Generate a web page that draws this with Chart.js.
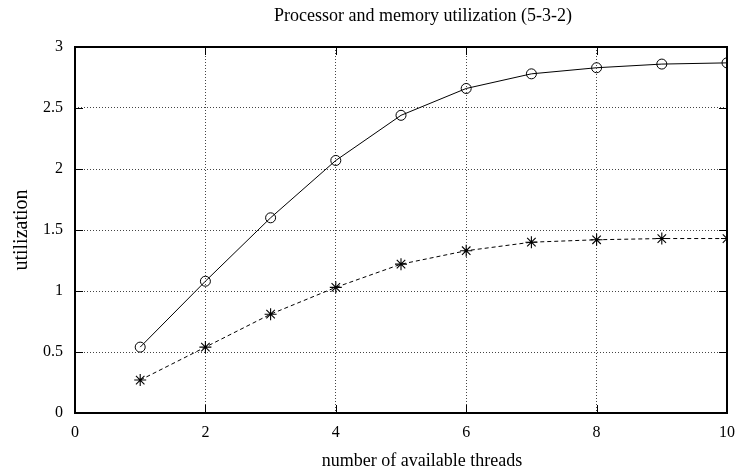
<!DOCTYPE html>
<html>
<head>
<meta charset="UTF-8">
<title>Processor and memory utilization</title>
<script src="https://cdn.jsdelivr.net/npm/chart.js"></script>
<style>
  body { margin: 0; background: #fff; }
  #wrap { width: 736px; height: 476px; }
</style>
</head>
<body>
<div id="wrap"><canvas id="util"></canvas></div>
<script>
// threads on the x axis
const threads = [1, 2, 3, 4, 5, 6, 7, 8, 9, 10];
// processor utilization (circles, solid line)
const processorUtil = [0.54, 1.08, 1.60, 2.07, 2.44, 2.66, 2.78, 2.83, 2.86, 2.87];
// memory utilization (stars, dashed line)
const memoryUtil = [0.27, 0.54, 0.81, 1.03, 1.22, 1.33, 1.40, 1.42, 1.43, 1.43];
const xTicks = [0, 2, 4, 6, 8, 10];
const yTicks = [0, 0.5, 1, 1.5, 2, 2.5, 3];

const titleText = 'Processor and memory utilization (5-3-2)';
const xLabel = 'number of available threads';
const yLabel = 'utilization';

const serif = 'Liberation Serif';

// gnuplot style frame with ticks drawn inwards, plus the labels
// (the figure was cropped on the right, so title and xlabel sit right of centre)
const frame = {
    id: 'frame',
    afterDatasetsDraw(chart) {
        const ctx = chart.ctx;
        const a = chart.chartArea;
        const xs = chart.scales.x, ys = chart.scales.y;
        ctx.save();
        ctx.strokeStyle = '#000';
        ctx.lineWidth = 1;
        ctx.beginPath();
        xTicks.forEach(v => {
            const px = Math.round(xs.getPixelForValue(v)) + 0.5;
            ctx.moveTo(px, a.bottom); ctx.lineTo(px, a.bottom - 8);
            ctx.moveTo(px, a.top); ctx.lineTo(px, a.top + 8);
        });
        yTicks.forEach(v => {
            const py = Math.round(ys.getPixelForValue(v)) + 0.5;
            ctx.moveTo(a.left, py); ctx.lineTo(a.left + 8, py);
            ctx.moveTo(a.right, py); ctx.lineTo(a.right - 8, py);
        });
        ctx.stroke();
        ctx.lineWidth = 2;
        ctx.strokeRect(a.left, a.top, a.right - a.left, a.bottom - a.top);

        ctx.fillStyle = '#000';
        ctx.textAlign = 'center';
        ctx.textBaseline = 'middle';
        ctx.font = '18px "' + serif + '"';
        ctx.fillText(titleText, 423, 16);
        ctx.fillText(xLabel, 422, 461);

        ctx.font = '20px "' + serif + '"';
        ctx.translate(27, (a.top + a.bottom) / 2);
        ctx.rotate(-Math.PI / 2);
        ctx.textBaseline = 'alphabetic';
        ctx.fillText(yLabel, 0, 0);
        ctx.restore();
    }
};

new Chart(document.getElementById('util'), {
    type: 'line',
    data: {
        datasets: [
            {
                label: 'processor',
                data: threads.map((t, i) => ({ x: t, y: processorUtil[i] })),
                borderColor: '#000',
                borderWidth: 1,
                pointStyle: 'circle',
                pointRadius: 5,
                pointBorderWidth: 1,
                pointBackgroundColor: 'rgba(255,255,255,0)',
                pointBorderColor: '#000',
                tension: 0
            },
            {
                label: 'memory',
                data: threads.map((t, i) => ({ x: t, y: memoryUtil[i] })),
                borderColor: '#000',
                borderWidth: 1,
                borderDash: [4, 3],
                pointStyle: 'star',
                pointRadius: 6,
                pointBorderWidth: 1.1,
                pointBorderColor: '#000',
                tension: 0
            }
        ]
    },
    options: {
        responsive: true,
        maintainAspectRatio: false,
        animation: false,
        layout: { padding: { left: 0, right: 0, top: 47, bottom: 0 } },
        plugins: {
            legend: { display: false },
            tooltip: { enabled: false },
            title: { display: false }
        },
        scales: {
            x: {
                type: 'linear',
                min: 0,
                max: 10,
                afterBuildTicks: s => { s.ticks = xTicks.map(v => ({ value: v })); },
                afterFit: s => { s.height = 63; s.paddingRight = 9; },
                grid: {
                    color: '#444',
                    drawTicks: false
                },
                border: { display: false, dash: [1, 2] },
                ticks: {
                    color: '#000',
                    padding: 10,
                    font: { family: serif, size: 16 }
                }
            },
            y: {
                min: 0,
                max: 3,
                afterBuildTicks: s => { s.ticks = yTicks.map(v => ({ value: v })); },
                afterFit: s => { s.width = 75; s.paddingTop = 0; s.paddingBottom = 0; },
                grid: {
                    color: '#444',
                    drawTicks: false
                },
                border: { display: false, dash: [1, 2] },
                ticks: {
                    color: '#000',
                    padding: 12,
                    font: { family: serif, size: 16 },
                    callback: v => String(v)
                }
            }
        }
    },
    plugins: [frame]
});
</script>
</body>
</html>
